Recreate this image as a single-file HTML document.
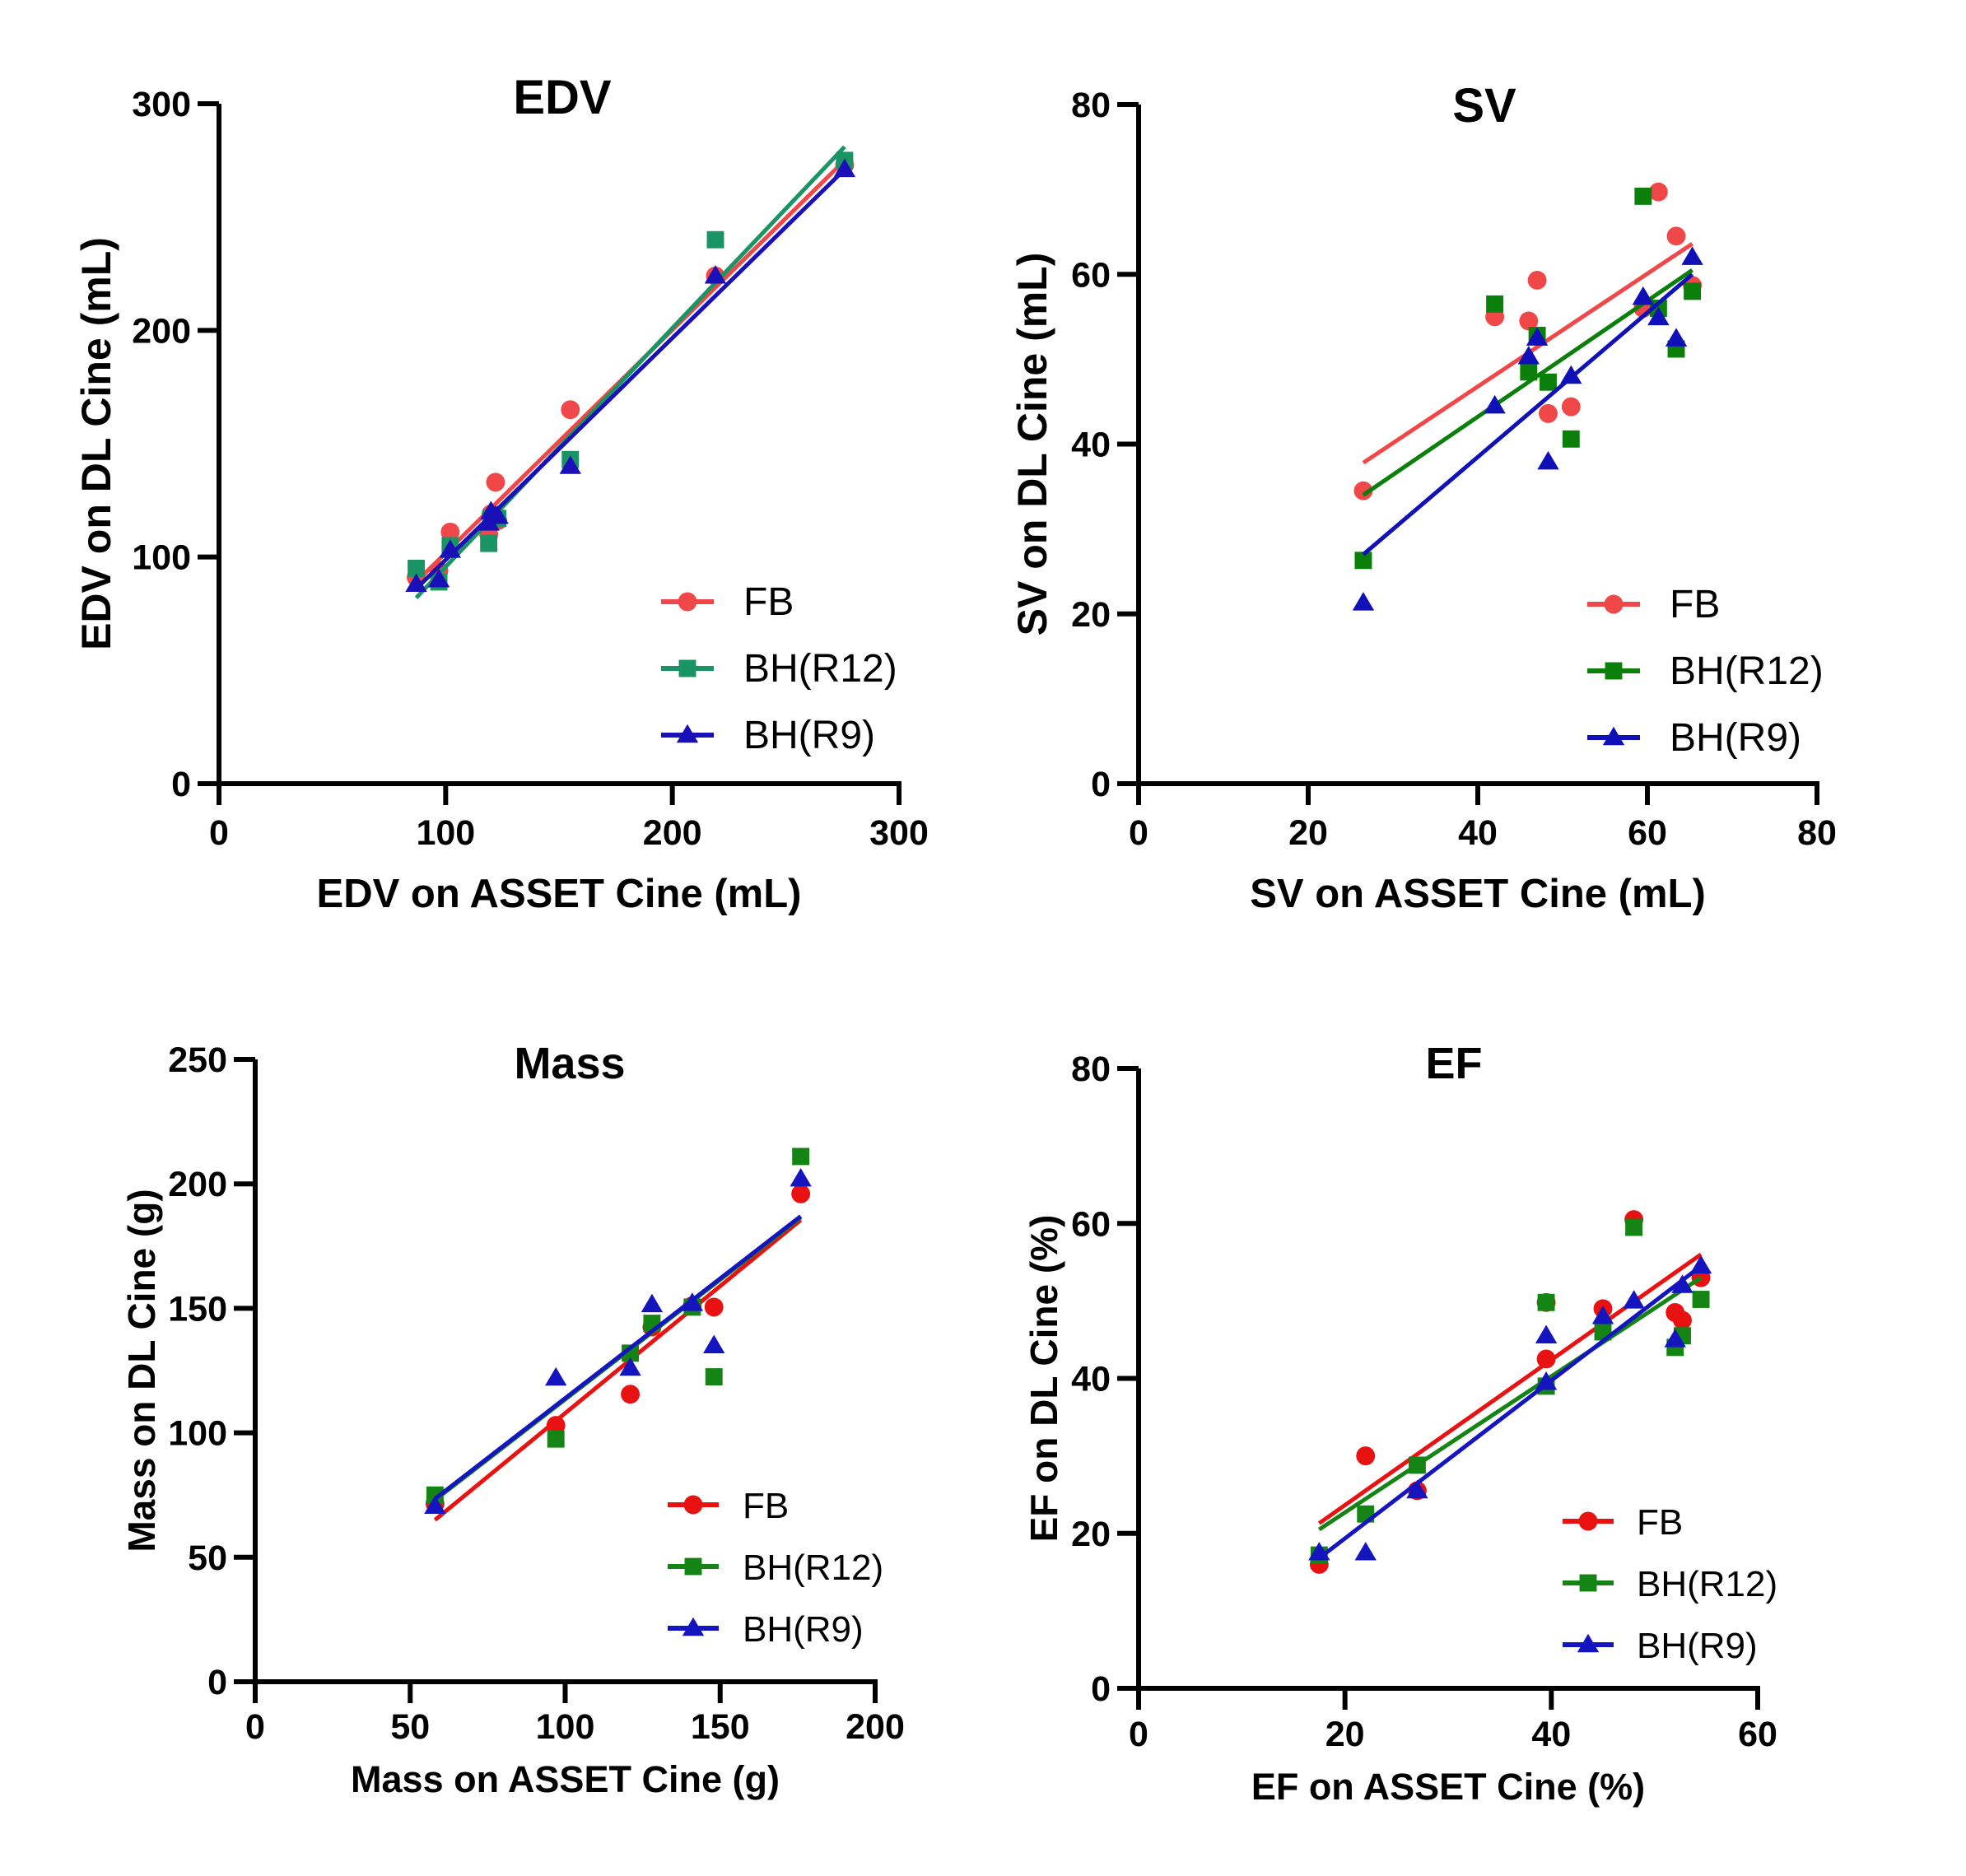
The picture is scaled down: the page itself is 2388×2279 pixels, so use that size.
<!DOCTYPE html>
<html><head><meta charset="utf-8"><style>
html,body{margin:0;padding:0;background:#fff}
svg{display:block}
text{font-family:"Liberation Sans",Arial,sans-serif}
</style></head><body>
<svg id="fig" width="2388" height="2279" viewBox="0 0 2388 2279" xmlns="http://www.w3.org/2000/svg"></svg>
<script>
// ---------- EDV data ----------
const edvX   = [87, 97, 102, 119, 120, 122, 123, 155, 219, 276];
const edvFB  = [91, 94, 111, 110, 119, 133, 116, 165, 224, 273];
const edvR12 = [95, 89, 105, 106, 117, 117, 117, 143, 240, 275];
const edvR9  = [88, 90, 103, 115, 120, 118, 118, 140, 224, 271];
const edvFitX = [87, 276];
const edvFitFB = [89, 275];
const edvFitR12 = [82, 281];
const edvFitR9 = [86, 271];
const edvXTicks = [0, 100, 200, 300];
const edvYTicks = [0, 100, 200, 300];
// ---------- SV data ----------
const svX   = [26.5, 42, 46, 47, 48.3, 51, 59.5, 61.3, 63.4, 65.3];
const svFB  = [34.5, 55, 54.5, 59.3, 43.6, 44.4, 56, 69.7, 64.5, 58.7];
const svR12 = [26.3, 56.5, 48.5, 52.8, 47.3, 40.6, 69.2, 56, 51.2, 58];
const svR9  = [21.3, 44.5, 50.3, 52.5, 37.9, 48, 57.3, 54.9, 52.4, 62];
const svFitX = [26.5, 65.3];
const svFitFB = [37.8, 63.6];
const svFitR12 = [34, 60.5];
const svFitR9 = [27, 60];
const svXTicks = [0, 20, 40, 60, 80];
const svYTicks = [0, 20, 40, 60, 80];
// ---------- Mass data ----------
const massX   = [58, 97, 121, 128, 141, 148, 176];
const massFB  = [71.5, 103, 115.5, 142.5, 151, 150.5, 196];
const massR12 = [75, 97.5, 132, 144, 150.5, 122.5, 211];
const massR9  = [70.5, 122, 126, 151.5, 152, 135, 202];
const massFitX = [58, 176];
const massFitFB = [65, 185.5];
const massFitR12 = [73, 186.5];
const massFitR9 = [73.5, 187];
const massXTicks = [0, 50, 100, 150, 200];
const massYTicks = [0, 50, 100, 150, 200, 250];
// ---------- EF data ----------
const efX   = [17.5, 22, 27, 39.5, 39.5, 45, 48, 52, 52.7, 54.5];
const efFB  = [16, 30, 25.5, 42.5, 49.8, 49, 60.5, 48.5, 47.5, 53];
const efR12 = [17.2, 22.5, 28.8, 39, 49.8, 46, 59.5, 44, 45.5, 50.2];
const efR9  = [17.5, 17.5, 25.5, 45.5, 39.5, 48, 50, 45, 52, 54.5];
const efFitX = [17.5, 54.5];
const efFitFB = [21.3, 56];
const efFitR12 = [20.5, 53];
const efFitR9 = [16.8, 54.5];
const efXTicks = [0, 20, 40, 60];
const efYTicks = [0, 20, 40, 60, 80];

const NS = "http://www.w3.org/2000/svg";
const svg = document.getElementById('fig');
function mk(tag, attrs, parent){
  const e = document.createElementNS(NS, tag);
  for (const k in attrs) e.setAttribute(k, attrs[k]);
  (parent || svg).appendChild(e);
  return e;
}

function panel(cfg){
  const g = mk('g', {});
  
  
  const sx = v => cfg.x0 + (v - cfg.xmin) / (cfg.xmax - cfg.xmin) * (cfg.x1 - cfg.x0);
  const sy = v => cfg.y0 - (v - cfg.ymin) / (cfg.ymax - cfg.ymin) * (cfg.y0 - cfg.y1);
  const yAxis = mk('line', {x1: cfg.x0, y1: cfg.y1, x2: cfg.x0, y2: cfg.y0 + 3, stroke: '#000', 'stroke-width': 6}, g);
  
  
  const xAxis = mk('line', {x1: cfg.x0 - 3, y1: cfg.y0, x2: cfg.x1 + 3, y2: cfg.y0, stroke: '#000', 'stroke-width': 6}, g);
  
  
  cfg.yTicks.forEach(t => {
    const y = sy(t);
    mk('line', {x1: cfg.x0 - 26, y1: y, x2: cfg.x0, y2: y, stroke: '#000', 'stroke-width': 6}, g);
    const tx = mk('text', {x: cfg.x0 - 34, y: y + 15, 'font-size': 43, 'font-weight': 'bold', 'text-anchor': 'end'}, g);
    tx.textContent = t;
    
    
  });
  cfg.xTicks.forEach(t => {
    const x = sx(t);
    mk('line', {x1: x, y1: cfg.y0, x2: x, y2: cfg.y0 + 26, stroke: '#000', 'stroke-width': 6}, g);
    const tx = mk('text', {x: x, y: cfg.y0 + cfg.xtickDy, 'font-size': 43, 'font-weight': 'bold', 'text-anchor': 'middle'}, g);
    tx.textContent = t;
    
    
  });
  const ti = mk('text', {x: cfg.titleX, y: cfg.titleY, 'font-size': cfg.titleFs, 'font-weight': 'bold', 'text-anchor': 'middle'}, g);
  ti.textContent = cfg.title;
  
  
  const xl = mk('text', {x: (cfg.x0 + cfg.x1) / 2, y: cfg.xLabelY, 'font-size': cfg.labelFs, 'font-weight': 'bold', 'text-anchor': 'middle'}, g);
  xl.textContent = cfg.xLabel;
  
  
  const cy = (cfg.y0 + cfg.y1) / 2;
  const yl = mk('text', {x: cfg.yLabelX, y: cy, 'font-size': cfg.labelFs + 1, 'font-weight': 'bold', 'text-anchor': 'middle', transform: 'rotate(-90 ' + cfg.yLabelX + ' ' + cy + ')'}, g);
  yl.textContent = cfg.yLabel;
  
  

  function marker(shape, x, y, color, parent, size){
    let e;
    if (shape === 'circle') e = mk('circle', {cx: x, cy: y, r: size * 0.52, fill: color}, parent);
    else if (shape === 'square') { const s = size * 0.95; e = mk('rect', {x: x - s / 2, y: y - s / 2, width: s, height: s, fill: color}, parent); }
    else { const s = size * 0.6; e = mk('polygon', {points: (x) + ',' + (y - s) + ' ' + (x + s) + ',' + (y + s * 0.7) + ' ' + (x - s) + ',' + (y + s * 0.7), fill: color}, parent); }
    return e;
  }
  cfg.series.forEach(s => {
    const sg = mk('g', {}, g);
    
    
    const fl = mk('line', {x1: sx(cfg.fitX[0]), y1: sy(s.fit[0]), x2: sx(cfg.fitX[1]), y2: sy(s.fit[1]), stroke: s.color, 'stroke-width': 5}, sg);
    
    
    s.vals.forEach((v, i) => {
      const m = marker(s.shape, sx(cfg.xs[i]), sy(v), s.color, sg, 22);
      
      
    });
  });
  cfg.series.forEach((s, i) => {
    const ly = cfg.legY + i * cfg.legDy;
    const lg = mk('g', {}, g);
    
    
    mk('line', {x1: cfg.legX, y1: ly, x2: cfg.legX + cfg.legW, y2: ly, stroke: s.color, 'stroke-width': 6}, lg);
    marker(s.shape, cfg.legX + cfg.legW / 2, ly, s.color, lg, 22);
    const t = mk('text', {x: cfg.legTx, y: ly + 16, 'font-size': cfg.legFs}, lg);
    t.textContent = s.name;
  });
}

panel({id: 'edv', title: 'EDV', titleX: 683, titleY: 138, titleFs: 58, labelFs: 49, legFs: 48, xLabel: 'EDV on ASSET Cine (mL)', yLabel: 'EDV on DL Cine (mL)',
  x0: 266, x1: 1092, y0: 952, y1: 126, xmin: 0, xmax: 300, ymin: 0, ymax: 300,
  xTicks: edvXTicks, yTicks: edvYTicks, xtickDy: 74, xLabelY: 1102, yLabelX: 134,
  xs: edvX, fitX: edvFitX, legX: 803, legW: 64, legTx: 903, legY: 731, legDy: 81,
  series: [
    {key: 'fb', name: 'FB', color: '#f04848', shape: 'circle', vals: edvFB, fit: edvFitFB},
    {key: 'bh-r12', name: 'BH(R12)', color: '#1a9464', shape: 'square', vals: edvR12, fit: edvFitR12},
    {key: 'bh-r9', name: 'BH(R9)', color: '#1a10b8', shape: 'tri', vals: edvR9, fit: edvFitR9}
  ]});

panel({id: 'sv', title: 'SV', titleX: 1803, titleY: 148, titleFs: 58, labelFs: 49, legFs: 48, xLabel: 'SV on ASSET Cine (mL)', yLabel: 'SV on DL Cine (mL)',
  x0: 1383, x1: 2207, y0: 952, y1: 127, xmin: 0, xmax: 80, ymin: 0, ymax: 80,
  xTicks: svXTicks, yTicks: svYTicks, xtickDy: 74, xLabelY: 1102, yLabelX: 1271,
  xs: svX, fitX: svFitX, legX: 1928, legW: 64, legTx: 2028, legY: 734, legDy: 81,
  series: [
    {key: 'fb', name: 'FB', color: '#f04848', shape: 'circle', vals: svFB, fit: svFitFB},
    {key: 'bh-r12', name: 'BH(R12)', color: '#0a800a', shape: 'square', vals: svR12, fit: svFitR12},
    {key: 'bh-r9', name: 'BH(R9)', color: '#1010b8', shape: 'tri', vals: svR9, fit: svFitR9}
  ]});

panel({id: 'mass', title: 'Mass', titleX: 692, titleY: 1310, titleFs: 54, labelFs: 45, legFs: 44, xLabel: 'Mass on ASSET Cine (g)', yLabel: 'Mass on DL Cine (g)',
  x0: 310, x1: 1063, y0: 2043, y1: 1287, xmin: 0, xmax: 200, ymin: 0, ymax: 250,
  xTicks: massXTicks, yTicks: massYTicks, xtickDy: 69, xLabelY: 2177, yLabelX: 188,
  xs: massX, fitX: massFitX, legX: 811, legW: 62, legTx: 902, legY: 1828, legDy: 75,
  series: [
    {key: 'fb', name: 'FB', color: '#e81212', shape: 'circle', vals: massFB, fit: massFitFB},
    {key: 'bh-r12', name: 'BH(R12)', color: '#148514', shape: 'square', vals: massR12, fit: massFitR12},
    {key: 'bh-r9', name: 'BH(R9)', color: '#1515c0', shape: 'tri', vals: massR9, fit: massFitR9}
  ]});

panel({id: 'ef', title: 'EF', titleX: 1766, titleY: 1310, titleFs: 54, labelFs: 45, legFs: 44, xLabel: 'EF on ASSET Cine (%)', yLabel: 'EF on DL Cine (%)',
  x0: 1383, x1: 2135, y0: 2051, y1: 1298, xmin: 0, xmax: 60, ymin: 0, ymax: 80,
  xTicks: efXTicks, yTicks: efYTicks, xtickDy: 70, xLabelY: 2186, yLabelX: 1284,
  xs: efX, fitX: efFitX, legX: 1898, legW: 62, legTx: 1988, legY: 1848, legDy: 75,
  series: [
    {key: 'fb', name: 'FB', color: '#e81212', shape: 'circle', vals: efFB, fit: efFitFB},
    {key: 'bh-r12', name: 'BH(R12)', color: '#148514', shape: 'square', vals: efR12, fit: efFitR12},
    {key: 'bh-r9', name: 'BH(R9)', color: '#1515c0', shape: 'tri', vals: efR9, fit: efFitR9}
  ]});
</script>
</body></html>
